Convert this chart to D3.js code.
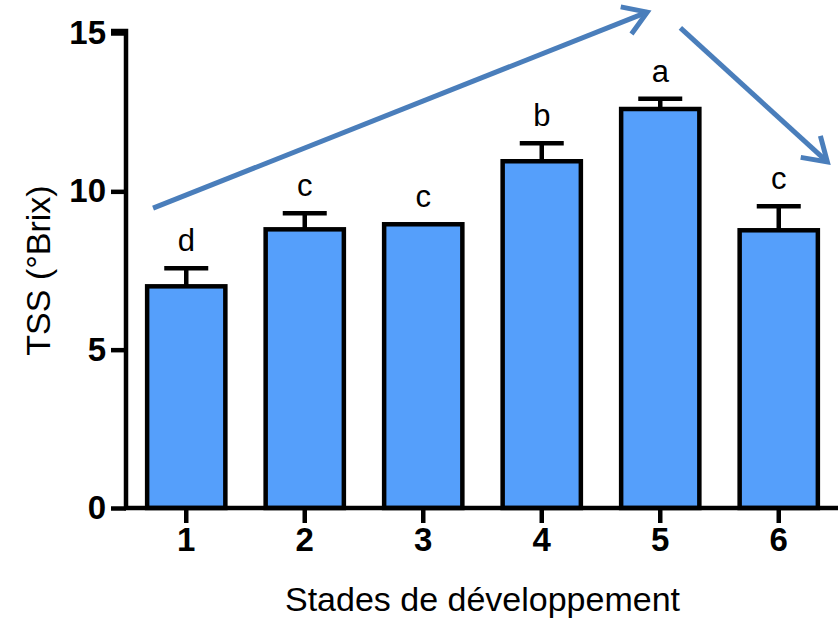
<!DOCTYPE html>
<html>
<head>
<meta charset="utf-8">
<script src="https://cdn.jsdelivr.net/npm/d3@7"></script>
<style>
  html, body { margin: 0; padding: 0; background: #fff; }
  svg { display: block; }
  text { font-family: Arial, "Liberation Sans", Helvetica, sans-serif; }
</style>
</head>
<body>
<svg id="chart" width="838" height="620"></svg>
<script>
// Development stages and total soluble solids (mean, SEM)
const stages = ["1", "2", "3", "4", "5", "6"];
const tssMean = [7.0, 8.8, 8.96, 10.95, 12.6, 8.77];
const tssSem = [0.57, 0.51, 0.0, 0.57, 0.32, 0.76];
const groupLetters = ["d", "c", "c", "b", "a", "c"];
const yTicks = [0, 5, 10, 15];

// Trend arrows, in (stage index, °Brix) units
const trendArrows = [
  { from: [-0.28, 9.47], to: [3.89, 15.66] },
  { from: [4.17, 15.16], to: [5.41, 10.93] }
];

const svg = d3.select("#chart");
const plotLeft = 127, plotRight = 838, plotTop = 33, plotBottom = 508;

const x = d3.scaleBand()
  .domain(stages)
  .range([plotLeft, plotRight])
  .paddingInner(0.34)
  .paddingOuter(0.17);

const y = d3.scaleLinear().domain([0, 15]).range([plotBottom, plotTop]);

// index -> band centre, for the trend arrows
const xi = d3.scaleLinear()
  .domain([0, stages.length - 1])
  .range([x(stages[0]) + x.bandwidth() / 2, x(stages[stages.length - 1]) + x.bandwidth() / 2]);

const barColor = "#559ffb";
const arrowColor = "#4a7ebb";

// bars
svg.append("g").selectAll("rect")
  .data(stages)
  .join("rect")
  .attr("x", d => x(d))
  .attr("y", (d, i) => y(tssMean[i]))
  .attr("width", x.bandwidth())
  .attr("height", (d, i) => y(0) - y(tssMean[i]))
  .attr("fill", barColor)
  .attr("stroke", "#000")
  .attr("stroke-width", 4.5);

// upper error bars
const err = svg.append("g").attr("stroke", "#000").attr("stroke-width", 4.5);
stages.forEach((d, i) => {
  if (tssSem[i] <= 0) return;
  const cx = x(d) + x.bandwidth() / 2;
  err.append("line")
    .attr("x1", cx).attr("x2", cx)
    .attr("y1", y(tssMean[i])).attr("y2", y(tssMean[i] + tssSem[i]));
  err.append("line")
    .attr("x1", cx - 22).attr("x2", cx + 22)
    .attr("y1", y(tssMean[i] + tssSem[i])).attr("y2", y(tssMean[i] + tssSem[i]));
});

// significance letters
svg.append("g").selectAll("text")
  .data(stages)
  .join("text")
  .attr("x", d => x(d) + x.bandwidth() / 2)
  .attr("y", (d, i) => y(tssMean[i] + tssSem[i]) - 17)
  .attr("text-anchor", "middle")
  .attr("font-size", 31)
  .attr("fill", "#000")
  .text((d, i) => groupLetters[i]);

// y axis
const yAxis = svg.append("g")
  .attr("transform", `translate(${plotLeft - 1},0)`)
  .call(d3.axisLeft(y).tickValues(yTicks).tickSize(15).tickPadding(5).tickFormat(d3.format("d")));
yAxis.select(".domain").attr("stroke-width", 4.5).attr("d", `M0,${plotBottom + 2}V${plotTop - 2}H-15`);
yAxis.selectAll(".tick line").attr("stroke-width", 4.5);
yAxis.selectAll(".tick text")
  .attr("font-size", 33).attr("font-weight", "bold").attr("fill", "#000")
  .attr("font-family", "Arial, 'Liberation Sans', sans-serif");

// x axis
const xAxis = svg.append("g")
  .attr("transform", `translate(0,${plotBottom})`)
  .call(d3.axisBottom(x).tickSize(15).tickPadding(5));
xAxis.select(".domain").attr("stroke-width", 4.5).attr("d", `M${plotLeft - 3},0H${plotRight}`);
xAxis.selectAll(".tick line").attr("stroke-width", 4.5);
xAxis.selectAll(".tick text")
  .attr("font-size", 33).attr("font-weight", "bold").attr("fill", "#000")
  .attr("font-family", "Arial, 'Liberation Sans', sans-serif");

// axis titles
svg.append("text")
  .attr("transform", `translate(50,${(plotTop + plotBottom) / 2}) rotate(-90)`)
  .attr("text-anchor", "middle")
  .attr("font-size", 34)
  .attr("fill", "#000")
  .text("TSS (°Brix)");

svg.append("text")
  .attr("x", (plotLeft + plotRight) / 2)
  .attr("y", 611)
  .attr("text-anchor", "middle")
  .attr("font-size", 34)
  .attr("fill", "#000")
  .text("Stades de développement");

// trend arrows with open chevron heads
const arrows = svg.append("g")
  .attr("stroke", arrowColor)
  .attr("stroke-width", 5)
  .attr("fill", "none");
trendArrows.forEach(a => {
  const x1 = xi(a.from[0]), y1 = y(a.from[1]);
  const x2 = xi(a.to[0]), y2 = y(a.to[1]);
  arrows.append("line").attr("x1", x1).attr("y1", y1).attr("x2", x2).attr("y2", y2);
  const ang = Math.atan2(y2 - y1, x2 - x1);
  const len = 27, spread = Math.PI / 5.5;
  const p1 = [x2 - len * Math.cos(ang - spread), y2 - len * Math.sin(ang - spread)];
  const p2 = [x2 - len * Math.cos(ang + spread), y2 - len * Math.sin(ang + spread)];
  arrows.append("path")
    .attr("d", `M${p1[0]},${p1[1]}L${x2},${y2}L${p2[0]},${p2[1]}`)
    .attr("stroke-linejoin", "miter");
});
</script>
</body>
</html>
